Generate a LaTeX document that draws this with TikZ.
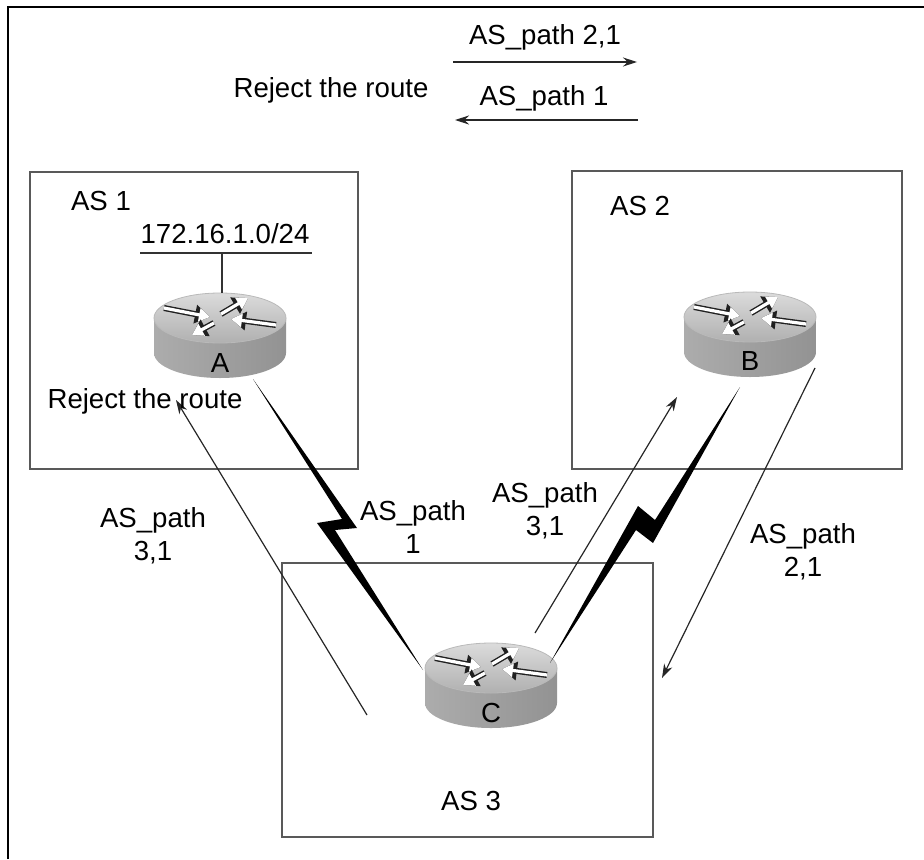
\documentclass[tikz,border=0pt]{standalone}
\usepackage{fontspec}
\setmainfont{Liberation Sans}
\usetikzlibrary{arrows.meta}

\begin{document}
\begin{tikzpicture}[x=0.5pt,y=0.5pt,font=\fontsize{13.8}{16.5}\selectfont]

    \tikzset{asbox/.style = {draw=gray!70!black,line width=1pt}}
    \tikzset{msg/.style = {-{Stealth[length=7pt,width=4.5pt]},line width=0.6pt,draw=black!85}}
    \tikzset{txt/.style = {inner sep=0pt,anchor=base}}
    \tikzset{twoline/.style = {inner sep=0pt,align=center}}
    \tikzset{rarr/.style = {preaction={draw=gray!25!black,line width=3pt,-{Triangle[length=7.5pt,width=9pt]}},
                            draw=white,line width=1.6pt,-{Triangle[length=5.5pt,width=6.5pt]}}}
    \tikzset{router/.pic = {
        \shade[left color=gray!65,middle color=gray!5,right color=gray!85]
            (-66,0) -- (-66,-35) arc[start angle=180,end angle=360,x radius=33pt,y radius=12.5pt]
            -- (66,0) -- cycle;
        \shade[top color=gray!28,bottom color=gray!62,draw=gray!55]
            (0,0) ellipse[x radius=33pt,y radius=12.5pt];
        \draw[rarr] (-56,10) -- (-10,1);
        \draw[rarr] (56,-7) -- (11,-1);
        \draw[rarr] (1,4) -- (28,20);
        \draw[rarr] (-6,-5) -- (-28,-17);
    }}

    \useasboundingbox (0,0) rectangle (924,859);
    \draw[line width=1.2pt] (8,0) -- (8,852) -- (924,852);

    % autonomous systems
    \draw[asbox] (30,390) rectangle (358,687);
    \draw[asbox] (572,390) rectangle (902,688);
    \draw[asbox] (282,22) rectangle (653,296);
    \node[txt] (as1) at (101,649) {AS 1};
    \node[txt] (as2) at (640,644) {AS 2};
    \node[txt] (as3) at (471,49) {AS 3};

    % routers
    \pic at (220,541) {router};
    \node[txt] (A) at (220,487) {A};
    \pic at (750,542) {router};
    \node[txt] (B) at (750,489) {B};
    \pic at (491,191) {router};
    \node[txt] (C) at (491,137) {C};

    % network on A
    \node[txt] (net) at (225,616) {172.16.1.0/24};
    \coordinate (lanw) at (140,606);
    \coordinate (lane) at (312,606);
    \coordinate (lanA) at (222,606);
    \coordinate (Atop) at (222,566);
    \draw[gray!40!black,line width=0.7pt] (lanw) -- (lane);
    \draw[gray!40!black,line width=0.7pt] (lanA) -- (Atop);

    % serial links
    \coordinate (sAC1) at (253,480);
    \coordinate (sAC2) at (423,189);
    \fill (sAC1) -- (357,331) -- (335,329) -- (sAC2) -- (317,336) -- (342,340) -- cycle;
    \coordinate (sBC1) at (740,472);
    \coordinate (sBC2) at (550,196);
    \fill (sBC1) -- (653,316) -- (636,329) -- (sBC2) -- (638,353) -- (655,339) -- cycle;

    % updates
    \coordinate (m1s) at (367,144);
    \coordinate (m1e) at (176,459);
    \coordinate (m2s) at (535,226);
    \coordinate (m2e) at (677,462);
    \coordinate (m3s) at (815,491);
    \coordinate (m3e) at (662,181);
    \draw[msg] (m1s) -- (m1e);
    \draw[msg] (m2s) -- (m2e);
    \draw[msg] (m3s) -- (m3e);
    \node[twoline] (pa) at (153,323) {AS\_path\\3,1};
    \node[twoline] (pb) at (413,332) {AS\_path\\1};
    \node[twoline] (pc) at (545,348) {AS\_path\\3,1};
    \node[twoline] (pd) at (803,307) {AS\_path\\2,1};
    \node[txt] (rej2) at (145,451) {Reject the route};

    % legend on top
    \coordinate (t1s) at (453,797);
    \coordinate (t1e) at (637,797);
    \coordinate (t2s) at (638,739);
    \coordinate (t2e) at (455,739);
    \draw[msg] (t1s) -- (t1e);
    \draw[msg] (t2s) -- (t2e);
    \node[txt] (p21) at (545,814) {AS\_path 2,1};
    \node[txt] (p1) at (544,754) {AS\_path 1};
    \node[txt] (rej1) at (331,762) {Reject the route};

\end{tikzpicture}
\end{document}
